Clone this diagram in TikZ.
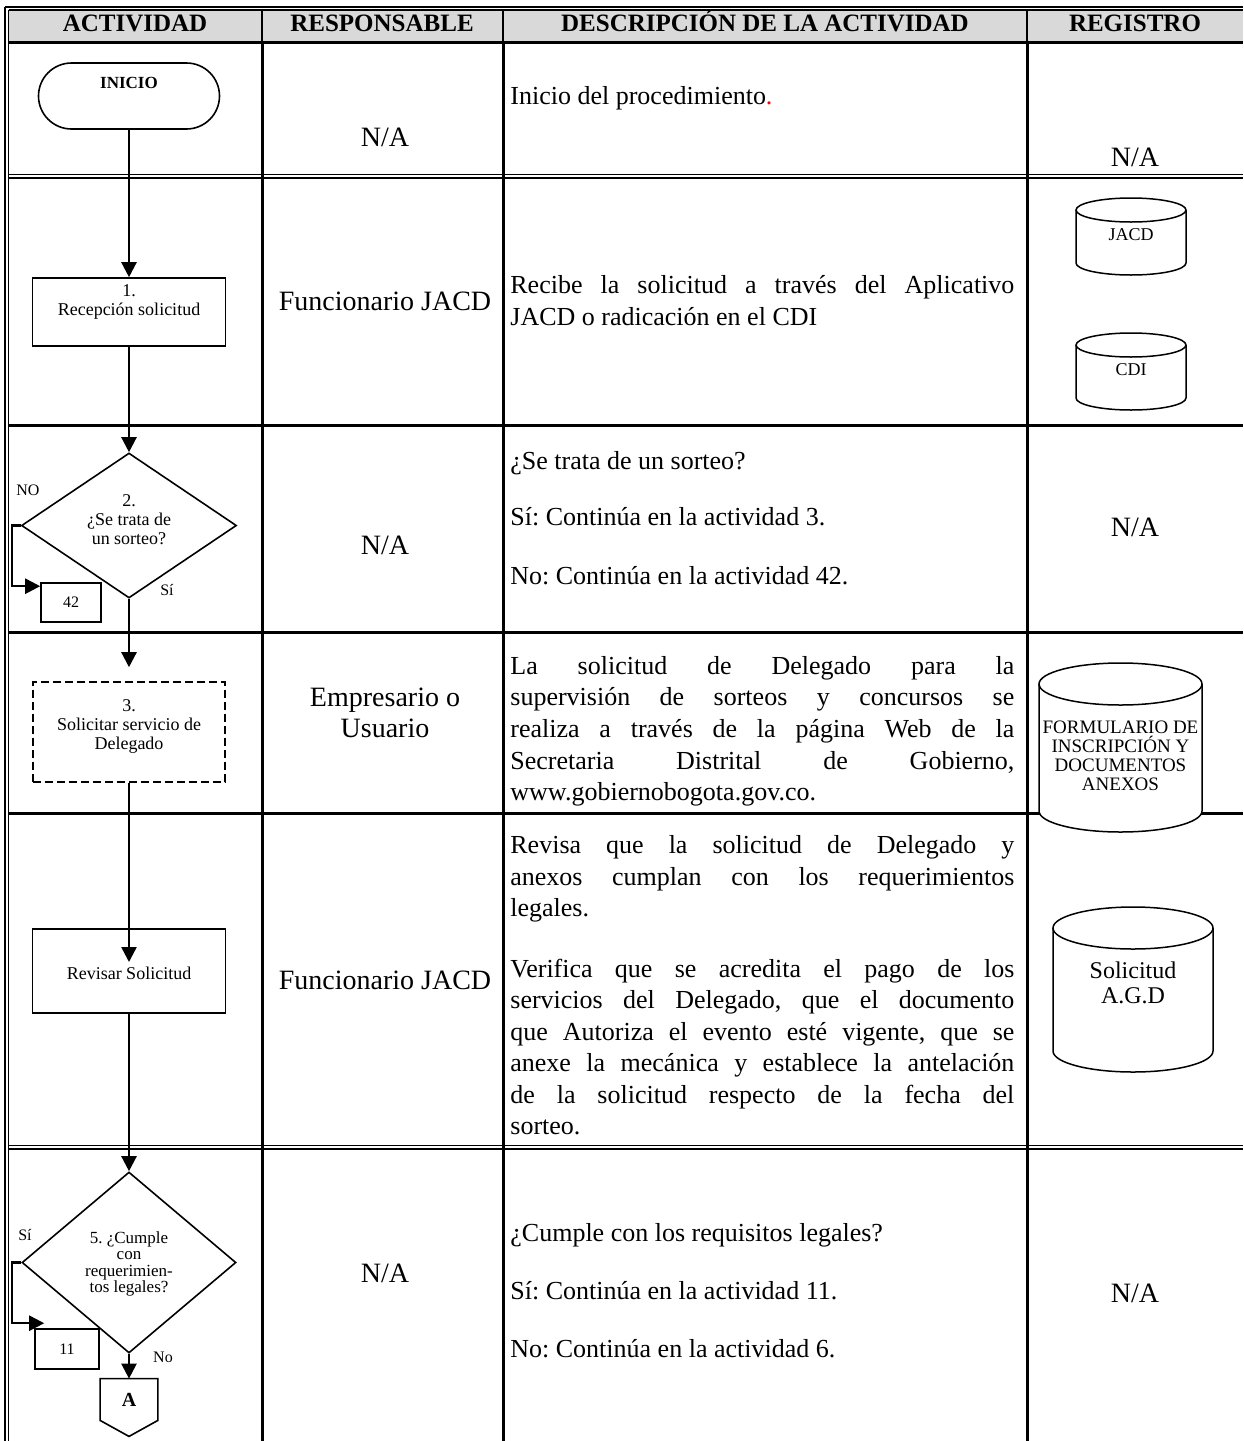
\documentclass[tikz,border=0pt]{standalone}
\usepackage{fontspec}
\setmainfont{Liberation Serif}
\usetikzlibrary{shapes.geometric,shapes.misc,arrows.meta,calc}
\definecolor{hdrgray}{HTML}{D9D9D9}
\newcommand{\jline}[1]{\makebox[252pt][s]{#1}}
\frenchspacing
\begin{document}
\frenchspacing
\begin{tikzpicture}[x=0.5pt,y=-0.5pt,
  thickrule/.style={line width=1.5pt},
  thinrule/.style={line width=0.6pt},
  shp/.style={draw, line width=0.8pt, inner sep=0pt},
  arr/.style={line width=1.2pt, -{Triangle[length=7.5pt,width=7.5pt]}},
  ftxt/.style={font=\fontsize{9}{9.5}\selectfont, align=center, inner sep=0pt},
  lbl/.style={font=\fontsize{8}{9}\selectfont, inner sep=0pt},
  coltxt/.style={font=\fontsize{14}{15.5}\selectfont, align=center, inner sep=0pt},
  dtxt/.style={font=\fontsize{13}{15.65}\selectfont, anchor=base west, inner sep=0pt},
  hdr/.style={font=\fontsize{12.5}{14}\selectfont\bfseries, inner sep=0pt, anchor=base},
  cylline/.style={line width=0.75pt, fill=white},
  cyltxt/.style={font=\fontsize{9}{9.5}\selectfont, align=center, inner sep=0pt},
]
\useasboundingbox (0,0) rectangle (1243,1441);
\fill[white] (0,0) rectangle (1243,1441);
% header fill
\fill[hdrgray] (8.5,10) rectangle (1243,42);
% borders
\draw[thinrule] (5,7) -- (5,1441);
\draw[thinrule] (8.5,10) -- (8.5,1441);
\draw[thinrule] (5,7) -- (1243,7);
\draw[thinrule] (8.5,10) -- (1243,10);
\draw[thickrule] (8.5,42) -- (1243,42);
\draw[thinrule] (8.5,174.5) -- (1243,174.5);
\draw[thinrule] (8.5,178) -- (1243,178);
\draw[thickrule] (8.5,425) -- (1243,425);
\draw[thickrule] (8.5,632) -- (1243,632);
\draw[thickrule] (8.5,813) -- (1243,813);
\draw[thinrule] (8.5,1145.5) -- (1243,1145.5);
\draw[thinrule] (8.5,1149) -- (1243,1149);
% column lines
\foreach \cx in {262,503,1027} {
  \draw[line width=0.7pt] (\cx,10) -- (\cx,42);
  \draw[thickrule] (\cx,42) -- (\cx,1441);
}
% header
\node[hdr] (h1) at (135,31) {ACTIVIDAD};
\node[hdr] (h2) at (382,31) {RESPONSABLE};
\node[hdr] (h3) at (765,31) {DESCRIPCIÓN DE LA ACTIVIDAD};
\node[hdr] (h4) at (1135,31) {REGISTRO};

% ---------- flowchart ----------
\node[shp, rounded rectangle, minimum width=90.5pt, minimum height=33pt] (ini) at (129,96) {};
\node[font=\fontsize{8.5}{9}\selectfont\bfseries, inner sep=0pt] (initxt) at (129,83) {INICIO};

\node[shp, minimum width=96.5pt, minimum height=34pt] (b1) at (129,312) {};
\node[ftxt] (b1t) at (129,302) {1.\\Recepción solicitud};

\node[shp, diamond, minimum width=107.5pt, minimum height=72.5pt] (d2) at (129,525.5) {};
\node[ftxt] (d2t) at (129,520) {2.\\¿Se trata de\\un sorteo?};
\node[shp, minimum width=30pt, minimum height=19.5pt, font=\fontsize{8}{9}\selectfont] (n42) at (71,602.5) {42};
\node[lbl] (lno1) at (28,490) {NO};
\node[lbl] (lsi1) at (167,590) {Sí};

\node[shp, dashed, dash pattern=on 4pt off 2pt, minimum width=96pt, minimum height=50pt] (b3) at (129,732) {};
\node[ftxt] (b3t) at (129,726) {3.\\Solicitar servicio de\\Delegado};

\node[shp, minimum width=96.5pt, minimum height=42pt] (b4) at (129,971) {};
\node[ftxt] (b4t) at (129,973) {Revisar Solicitud};
\coordinate (b4tip) at (129,962);

\node[shp, diamond, minimum width=107pt, minimum height=90.5pt] (d5) at (129,1262.5) {};
\node[font=\fontsize{8.5}{8.2}\selectfont, align=center, inner sep=0pt] (d5t) at (129,1264) {5. ¿Cumple\\con\\requerimien-\\tos legales?};
\node[shp, minimum width=32pt, minimum height=20pt, font=\fontsize{8}{9}\selectfont] (n11) at (67,1349) {11};
\node[lbl] (lsi2) at (25,1235) {Sí};
\node[lbl] (lno2) at (163,1357) {No};

\node[inner sep=0pt, minimum width=28.5pt, minimum height=20.5pt, font=\fontsize{10}{11}\selectfont\bfseries] (conA) at (129,1399.5) {A};
\draw[shp] (conA.north west) -- (conA.north east) -- (conA.south east) -- ($(conA.south)+(0,16)$) -- (conA.south west) -- cycle;

% connectors
\draw[arr] (ini) -- (b1);
\draw[arr] (b1) -- (d2);
\draw[arr] (d2.west) -- ++(-9,0) |- ($(n42.north west)+(0,4)$);
\draw[arr, shorten >=7pt] (d2) -- (b3);
\draw[arr] (b3) -- (b4tip);
\draw[arr] (b4) -- (d5);
\draw[arr] (d5.west) -- ++(-9,0) |- ($(n11.north west)+(10,-5)$);
\draw[arr] (d5) -- (conA);

% ---------- responsable ----------
\node[coltxt] (r1) at (385,137) {N/A};
\node[coltxt] (r2) at (385,301) {Funcionario JACD};
\node[coltxt] (r3) at (385,545) {N/A};
\node[coltxt] (r4) at (385,713) {Empresario o\\Usuario};
\node[coltxt] (r5) at (385,980) {Funcionario JACD};
\node[coltxt] (r6) at (385,1273) {N/A};

% ---------- descripcion ----------
\node[dtxt] (t1) at (510,104) {Inicio del procedimiento\textcolor{red}{.}};
\node[dtxt] (t2a) at (510,293) {\jline{Recibe la solicitud a través del Aplicativo}};
\node[dtxt] (t2b) at (510,325) {JACD o radicación en el CDI};
\node[dtxt] (t3a) at (510,469) {¿Se trata de un sorteo?};
\node[dtxt] (t3b) at (510,525) {Sí: Continúa en la actividad 3.};
\node[dtxt] (t3c) at (510,584) {No: Continúa en la actividad 42.};
\node[dtxt] (t4a) at (510,674) {\jline{La solicitud de Delegado para la}};
\node[dtxt] (t4b) at (510,705) {\jline{supervisión de sorteos y concursos se}};
\node[dtxt] (t4c) at (510,737) {\jline{realiza a través de la página Web de la}};
\node[dtxt] (t4d) at (510,769) {\jline{Secretaria Distrital de Gobierno,}};
\node[dtxt] (t4e) at (510,800) {www.gobiernobogota.gov.co.};
\node[dtxt] (t5a) at (510,853) {\jline{Revisa que la solicitud de Delegado y}};
\node[dtxt] (t5b) at (510,885) {\jline{anexos cumplan con los requerimientos}};
\node[dtxt] (t5c) at (510,916) {legales.};
\node[dtxt] (t5d) at (510,977) {\jline{Verifica que se acredita el pago de los}};
\node[dtxt] (t5e) at (510,1008) {\jline{servicios del Delegado, que el documento}};
\node[dtxt] (t5f) at (510,1040) {\jline{que Autoriza el evento esté vigente, que se}};
\node[dtxt] (t5g) at (510,1071) {\jline{anexe la mecánica y establece la antelación}};
\node[dtxt] (t5h) at (510,1103) {\jline{de la solicitud respecto de la fecha del}};
\node[dtxt] (t5i) at (510,1134) {sorteo.};
\node[dtxt] (t6a) at (510,1241) {¿Cumple con los requisitos legales?};
\node[dtxt] (t6b) at (510,1299) {Sí: Continúa en la actividad 11.};
\node[dtxt] (t6c) at (510,1357) {No: Continúa en la actividad 6.};

% ---------- registro ----------
\node[coltxt] (g1) at (1135,157) {N/A};
% JACD cylinder
\draw[cylline] (1076,210) -- (1076,263) arc[start angle=180,end angle=360,x radius=27.5pt,y radius=6pt] -- (1186,210);
\draw[cylline] (1131,210) ellipse [x radius=27.5pt, y radius=6pt];
\node[cyltxt] (g2a) at (1131,235) {JACD};
% CDI cylinder
\draw[cylline] (1076,345) -- (1076,398) arc[start angle=180,end angle=360,x radius=27.5pt,y radius=6pt] -- (1186,345);
\draw[cylline] (1131,345) ellipse [x radius=27.5pt, y radius=6pt];
\node[cyltxt] (g2b) at (1131,370) {CDI};
\node[coltxt] (g3) at (1135,527) {N/A};
% Formulario cylinder
\draw[cylline] (1039,684) -- (1039,811) arc[start angle=180,end angle=360,x radius=40.75pt,y radius=10.5pt] -- (1202,684);
\draw[cylline] (1120.5,684) ellipse [x radius=40.75pt, y radius=10.5pt];
\node[cyltxt, font=\fontsize{9.5}{9.5}\selectfont] (g4) at (1120.5,756) {FORMULARIO DE\\INSCRIPCIÓN Y\\DOCUMENTOS\\ANEXOS};
% Solicitud cylinder
\draw[cylline] (1053,928) -- (1053,1051) arc[start angle=180,end angle=360,x radius=40pt,y radius=10.5pt] -- (1213,928);
\draw[cylline] (1133,928) ellipse [x radius=40pt, y radius=10.5pt];
\node[cyltxt, font=\fontsize{12}{12.5}\selectfont] (g5) at (1133,983) {Solicitud\\A.G.D};
\node[coltxt] (g6) at (1135,1293) {N/A};
\end{tikzpicture}
\end{document}
